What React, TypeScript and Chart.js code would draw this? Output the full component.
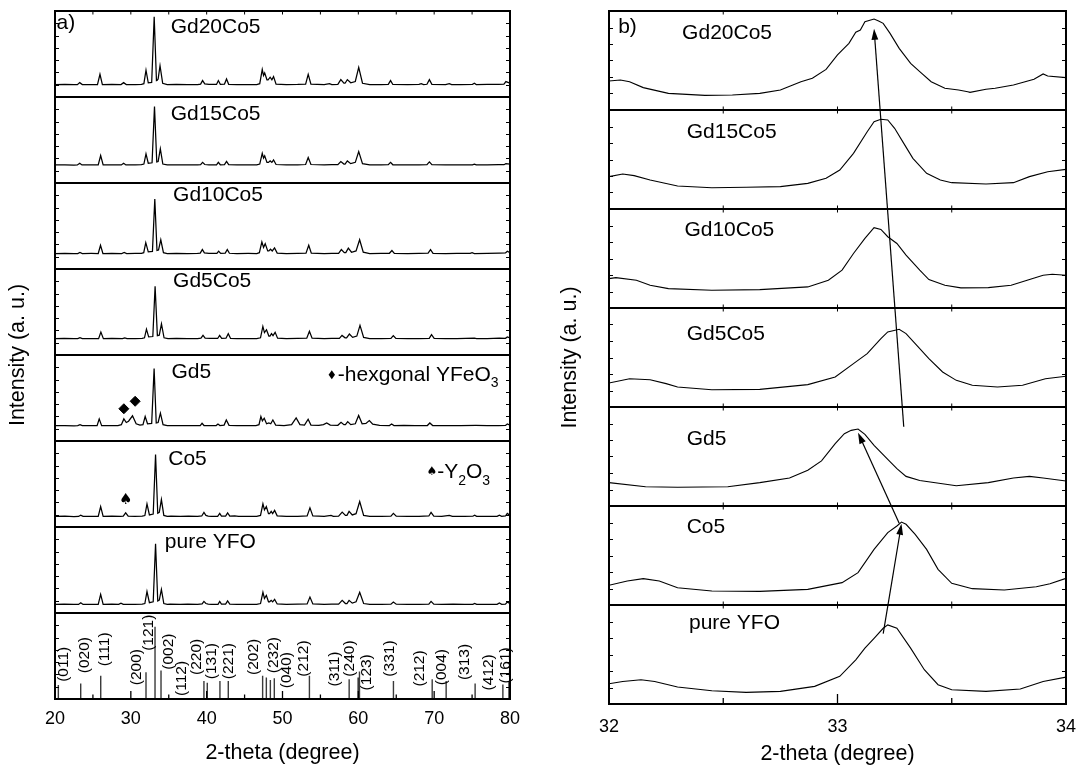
import React, { useEffect, useRef } from 'react';
import { Chart, registerables } from 'chart.js';

Chart.register(...registerables);

const FONT = '"Liberation Sans", Arial, Helvetica, sans-serif';
type Pt = [number, number];

// ================= panel (a): full XRD patterns, 2-theta vs normalised intensity =================
const A_X_TICKS = [20, 30, 40, 50, 60, 70, 80];
const A_X_MINOR = [25, 35, 45, 55, 65, 75];
const A_TOP_TICKS = [25, 30, 35, 40, 45, 50, 55, 60, 65, 70, 75];

const A_PURE: Pt[] = [[20,.10],[21.2,.102],[22.5,.099],[23.1,.10],[23.4,.12],[23.7,.10],[24.8,.101],[25.7,.10],[26.02,.216],[26.35,.10],[27.5,.102],[28.4,.10],[28.7,.115],[29.0,.10],[30.5,.101],[31.5,.103],[31.85,.11],[32.13,.25],[32.45,.12],[32.95,.13],[33.26,.805],[33.55,.14],[33.75,.15],[34.03,.275],[34.35,.11],[34.8,.10],[35.2,.103],[36.5,.1],[37.5,.102],[38.8,.1],[39.4,.105],[39.64,.135],[39.9,.11],[40.2,.104],[40.6,.10],[41.5,.1],[41.72,.135],[41.95,.103],[42.5,.103],[42.76,.14],[43.05,.103],[44,.1],[45.5,.101],[46.6,.10],[47.1,.11],[47.42,.24],[47.62,.17],[47.87,.205],[48.15,.13],[48.3,.13],[48.51,.147],[48.7,.13],[48.96,.158],[49.3,.105],[50.5,.10],[52,.102],[53.25,.105],[53.62,.185],[54.0,.105],[55.5,.1],[56.5,.104],[57.4,.103],[57.87,.147],[58.3,.11],[58.5,.11],[58.78,.147],[59.2,.115],[59.7,.13],[60.18,.24],[60.7,.11],[61.5,.10],[63,.1],[64.3,.103],[64.62,.127],[65,.102],[66.5,.1],[68,.101],[69.3,.104],[69.59,.135],[69.95,.103],[71,.1],[72.5,.102],[74,.1],[75.1,.101],[75.34,.112],[75.6,.1],[77,.101],[78.3,.1],[78.6,.116],[78.9,.101],[79.4,.104],[79.64,.127],[80,.11]];

const A_CO5: Pt[] = [[20,.123],[21.3,.125],[22.5,.122],[23.1,.123],[23.39,.138],[23.7,.123],[24.8,.124],[25.7,.123],[26.02,.238],[26.35,.123],[27.5,.125],[28.6,.124],[29.0,.126],[29.32,.165],[29.65,.126],[30.5,.123],[31.5,.126],[31.85,.133],[32.13,.269],[32.45,.14],[32.95,.15],[33.26,.843],[33.55,.16],[33.75,.17],[34.03,.319],[34.35,.135],[34.8,.124],[35.3,.126],[36.5,.123],[37.6,.125],[38.8,.123],[39.35,.128],[39.64,.169],[39.9,.135],[40.2,.127],[40.6,.124],[41.45,.124],[41.72,.158],[41.95,.126],[42.5,.127],[42.76,.163],[43.05,.126],[43.7,.128],[44.2,.124],[45.5,.124],[46.6,.124],[47.1,.134],[47.42,.269],[47.62,.2],[47.87,.238],[48.15,.155],[48.3,.155],[48.51,.181],[48.7,.155],[48.96,.193],[49.3,.13],[50.5,.124],[52,.125],[53.25,.128],[53.62,.223],[54.0,.128],[55.5,.124],[56.4,.135],[56.7,.124],[57.4,.127],[57.87,.173],[58.3,.135],[58.5,.135],[58.78,.181],[59.2,.14],[59.7,.155],[60.18,.296],[60.7,.135],[61.5,.124],[63,.124],[64.3,.127],[64.62,.158],[65,.126],[66.5,.124],[68,.125],[69.3,.128],[69.59,.169],[69.95,.127],[71,.124],[72,.135],[72.4,.124],[74,.124],[75.1,.125],[75.34,.138],[75.6,.124],[77,.125],[78.3,.124],[78.6,.138],[78.9,.125],[79.4,.128],[79.64,.158],[80,.135]];

const A_GD5: Pt[] = [[20,.178],[21.3,.18],[22.5,.177],[23.0,.178],[23.3,.19],[23.6,.178],[24.8,.179],[25.55,.178],[25.83,.257],[26.15,.178],[27.3,.18],[28.3,.179],[28.75,.19],[29.08,.257],[29.4,.215],[29.7,.23],[30.22,.293],[30.7,.2],[31.2,.185],[31.6,.19],[31.89,.285],[32.2,.2],[32.75,.205],[33.07,.842],[33.35,.21],[33.6,.215],[33.9,.324],[34.25,.19],[34.8,.18],[36,.179],[37.5,.18],[38.8,.178],[39.15,.18],[39.39,.206],[39.65,.18],[40.5,.179],[41.25,.18],[41.49,.198],[41.75,.18],[42.3,.185],[42.59,.245],[42.95,.182],[44,.179],[45.5,.18],[46.5,.18],[46.9,.19],[47.15,.285],[47.35,.235],[47.59,.265],[47.9,.2],[48.2,.21],[48.45,.2],[48.73,.245],[49.1,.185],[50.2,.18],[51.2,.19],[51.8,.268],[52.3,.19],[52.9,.185],[53.38,.253],[53.75,.185],[54.8,.182],[55.4,.19],[55.83,.21],[56.3,.185],[57.3,.183],[57.72,.218],[58.1,.19],[58.3,.19],[58.6,.225],[59.0,.19],[59.6,.2],[60.04,.297],[60.5,.2],[61.0,.205],[61.45,.238],[61.9,.195],[62.8,.182],[64.1,.18],[64.39,.198],[64.7,.18],[66,.181],[67.5,.179],[69.1,.18],[69.43,.21],[69.8,.18],[71.5,.179],[73.5,.18],[75.5,.181],[77,.179],[78.5,.18],[79.4,.181],[79.65,.198],[80,.185]];

const A_GD5CO5: Pt[] = [[20,.19],[21.2,.192],[22.5,.189],[23.0,.19],[23.29,.202],[23.6,.19],[24.8,.191],[25.75,.19],[26.05,.267],[26.38,.19],[27.5,.192],[28.9,.19],[29.2,.2],[29.5,.19],[30.6,.191],[31.5,.193],[31.8,.2],[32.06,.3],[32.35,.21],[32.9,.215],[33.2,.8],[33.5,.225],[33.75,.23],[34.04,.363],[34.38,.2],[34.9,.19],[36,.192],[37.5,.19],[38.8,.191],[39.25,.195],[39.52,.228],[39.8,.197],[40.4,.192],[41.45,.192],[41.71,.228],[41.98,.193],[42.55,.195],[42.85,.248],[43.15,.193],[44,.19],[45.5,.191],[46.6,.19],[47.1,.2],[47.41,.332],[47.62,.26],[47.89,.294],[48.2,.22],[48.35,.22],[48.55,.248],[48.75,.225],[49.03,.263],[49.35,.195],[50.5,.19],[52,.192],[53.2,.195],[53.55,.275],[53.9,.195],[55.5,.19],[56.5,.193],[57.5,.193],[57.85,.228],[58.25,.2],[58.45,.2],[58.82,.244],[59.25,.205],[59.8,.22],[60.22,.344],[60.7,.205],[61.5,.19],[63,.191],[64.3,.193],[64.61,.225],[64.95,.192],[66.5,.19],[68,.191],[69.35,.194],[69.65,.236],[70.0,.193],[71.5,.19],[73,.191],[75.3,.195],[75.6,.19],[77,.191],[78.6,.195],[79.4,.194],[79.65,.21],[80,.2]];

const A_GD10CO5: Pt[] = [[20,.18],[21.3,.182],[22.5,.179],[23.0,.18],[23.29,.192],[23.6,.18],[24.8,.181],[25.7,.18],[26.0,.276],[26.32,.18],[27.5,.182],[28.8,.18],[29.12,.192],[29.45,.18],[30.6,.181],[31.4,.183],[31.7,.19],[31.97,.307],[32.3,.2],[32.85,.205],[33.16,.815],[33.45,.215],[33.65,.22],[33.95,.34],[34.3,.19],[34.8,.18],[36,.182],[37.5,.18],[38.8,.181],[39.15,.185],[39.43,.226],[39.7,.187],[40.3,.182],[41.35,.181],[41.58,.207],[41.85,.182],[42.45,.184],[42.72,.226],[43.0,.183],[44,.18],[45.5,.181],[46.6,.18],[46.95,.19],[47.28,.315],[47.5,.25],[47.72,.295],[48.05,.21],[48.2,.21],[48.42,.23],[48.65,.21],[48.95,.245],[49.3,.185],[50.5,.18],[52,.182],[53.1,.185],[53.46,.276],[53.8,.185],[55.5,.18],[56.5,.183],[57.4,.183],[57.76,.226],[58.15,.19],[58.35,.19],[58.68,.242],[59.1,.195],[59.7,.21],[60.17,.34],[60.65,.195],[61.5,.18],[63,.181],[64.1,.183],[64.43,.215],[64.75,.182],[66.5,.18],[68,.181],[69.2,.184],[69.52,.226],[69.85,.183],[71.5,.18],[73,.181],[74.75,.182],[75.0,.19],[75.3,.18],[77,.181],[78.6,.184],[79.4,.186],[79.65,.207],[80,.19]];

const A_GD15CO5: Pt[] = [[20,.21],[21.3,.212],[22.5,.209],[22.95,.21],[23.26,.23],[23.55,.21],[24.8,.211],[25.7,.21],[26.02,.32],[26.35,.21],[27.5,.212],[28.75,.21],[29.05,.23],[29.35,.21],[30.6,.211],[31.4,.213],[31.72,.22],[32.0,.34],[32.3,.23],[32.8,.235],[33.12,.89],[33.42,.245],[33.6,.25],[33.89,.397],[34.22,.22],[34.8,.21],[36,.212],[37.5,.21],[38.8,.211],[39.2,.214],[39.46,.24],[39.75,.215],[40.3,.212],[41.3,.211],[41.54,.24],[41.8,.212],[42.35,.214],[42.62,.25],[42.9,.213],[44,.21],[45.5,.211],[46.6,.21],[47.0,.22],[47.33,.346],[47.5,.29],[47.65,.315],[47.95,.24],[48.15,.24],[48.37,.257],[48.6,.24],[48.82,.268],[49.15,.215],[50.5,.21],[52,.212],[53.05,.215],[53.39,.296],[53.75,.215],[55.5,.21],[56.5,.213],[57.3,.213],[57.69,.25],[58.1,.22],[58.25,.22],[58.55,.257],[59.0,.225],[59.6,.24],[60.05,.366],[60.55,.225],[61.5,.21],[63,.211],[63.95,.213],[64.25,.24],[64.55,.212],[66.5,.21],[68,.211],[69.05,.214],[69.37,.245],[69.7,.213],[71.5,.21],[73,.211],[75.05,.212],[75.3,.22],[75.55,.21],[77,.211],[78.5,.214],[79.2,.213],[79.46,.225],[80,.22]];

const A_GD20CO5: Pt[] = [[20,.144],[21.3,.146],[22.5,.143],[22.95,.144],[23.26,.167],[23.6,.144],[24.8,.145],[25.6,.144],[25.93,.264],[26.25,.144],[27.5,.146],[28.7,.144],[29.05,.167],[29.4,.144],[30.6,.145],[31.4,.147],[31.72,.155],[32.0,.311],[32.3,.165],[32.75,.17],[33.08,.934],[33.38,.19],[33.48,.194],[33.6,.21],[33.85,.364],[34.2,.16],[34.8,.144],[36,.146],[37.5,.144],[38.8,.145],[39.2,.15],[39.46,.191],[39.75,.152],[40.3,.146],[41.3,.146],[41.54,.191],[41.8,.147],[42.35,.15],[42.62,.21],[42.9,.148],[44,.144],[45.5,.145],[46.6,.145],[47.0,.155],[47.33,.319],[47.5,.25],[47.65,.28],[47.95,.2],[48.1,.2],[48.37,.23],[48.6,.2],[48.82,.237],[49.15,.15],[50.5,.144],[52,.146],[53.05,.15],[53.39,.264],[53.75,.15],[55.5,.145],[56.2,.156],[56.5,.145],[57.3,.148],[57.69,.202],[58.1,.16],[58.25,.16],[58.55,.202],[59.0,.165],[59.6,.18],[60.05,.344],[60.55,.16],[61.5,.144],[63,.145],[63.95,.148],[64.25,.191],[64.55,.146],[66.5,.144],[68,.146],[68.3,.155],[68.6,.145],[69.05,.148],[69.37,.202],[69.7,.147],[71.5,.145],[72,.155],[72.3,.144],[73.5,.145],[75.05,.147],[75.3,.159],[75.55,.145],[77,.146],[78.5,.148],[79.2,.15],[79.46,.179],[80,.16]];

// reference (standard) lines in the bottom panel
const STICK_X = [20.44, 23.39, 26.03, 32.0, 33.19, 33.98, 39.64, 40.08, 41.75, 42.85, 47.38, 47.87, 48.4, 48.92, 53.55, 58.79, 59.97, 60.15, 64.63, 69.74, 71.58, 75.4, 79.06, 79.86];
const STICK_H = [0.163, 0.18, 0.27, 0.31, 0.84, 0.33, 0.21, 0.19, 0.21, 0.21, 0.27, 0.25, 0.22, 0.24, 0.27, 0.23, 0.25, 0.32, 0.21, 0.23, 0.21, 0.18, 0.17, 0.2];
const MILLER_TEXT = ['(011)', '(020)', '(111)', '(200)', '(121)', '(002)', '(112)', '(220)', '(131)', '(221)', '(202)', '(232)', '(040)', '(212)', '(311)', '(240)', '(123)', '(331)', '(212)', '(004)', '(313)', '(412)', '(161)'];
const MILLER_X = [21.1, 23.96, 26.6, 30.77, 32.31, 34.95, 36.7, 38.7, 40.67, 42.87, 46.16, 48.8, 50.57, 52.76, 56.94, 58.92, 61.12, 64.1, 68.15, 71.0, 74.09, 77.16, 79.37];
const MILLER_Y = [0.2, 0.3, 0.38, 0.16, 0.56, 0.34, 0.035, 0.28, 0.23, 0.23, 0.28, 0.3, 0.125, 0.26, 0.145, 0.26, 0.1, 0.26, 0.145, 0.16, 0.22, 0.1, 0.18];

// hexagonal YFeO3 markers (Gd5) and Y2O3 marker (Co5), in panel units
const DIAMOND_X = [29.08, 30.57];
const DIAMOND_Y = [0.375, 0.462];
const SPADE_X = [29.32];
const SPADE_Y = [0.315];

// panel order from bottom (index 0 = reference lines)
const A_SERIES_NAMES = ['pure YFO', 'Co5', 'Gd5', 'Gd5Co5', 'Gd10Co5', 'Gd15Co5', 'Gd20Co5'];
const A_SERIES_DATA = [A_PURE, A_CO5, A_GD5, A_GD5CO5, A_GD10CO5, A_GD15CO5, A_GD20CO5];
const A_NAME_X = [34.48, 34.93, 35.35, 35.57, 35.57, 35.25, 35.25];
const A_NAME_Y = [0.826, 0.79, 0.8, 0.854, 0.854, 0.805, 0.817];

// ================= panel (b): zoom on the main peak =================
const B_X_TICKS = [32, 33, 34];
const B_X_MINOR = [32.5, 33.5];
const B_TOP_TICKS = [32.5, 33, 33.5];

const B_PURE: Pt[] = [[32.0,.205],[32.06,.228],[32.14,.245],[32.2,.228],[32.3,.171],[32.45,.134],[32.6,.117],[32.75,.128],[32.9,.178],[33.01,.279],[33.08,.446],[33.12,.564],[33.16,.664],[33.2,.765],[33.22,.799],[33.26,.765],[33.32,.564],[33.38,.346],[33.44,.195],[33.5,.144],[33.65,.128],[33.8,.151],[33.9,.228],[34.0,.272]];
const B_CO5: Pt[] = [[32.0,.199],[32.08,.242],[32.15,.266],[32.22,.242],[32.3,.175],[32.45,.141],[32.66,.138],[32.87,.158],[33.02,.226],[33.09,.327],[33.16,.562],[33.22,.731],[33.26,.798],[33.28,.838],[33.3,.815],[33.34,.714],[33.39,.562],[33.44,.36],[33.5,.219],[33.59,.165],[33.73,.152],[33.87,.185],[33.93,.215],[34.0,.269]];
const B_GD5: Pt[] = [[32.0,.236],[32.16,.195],[32.3,.189],[32.52,.195],[32.66,.236],[32.79,.283],[32.87,.362],[32.93,.456],[32.99,.629],[33.03,.73],[33.06,.764],[33.09,.777],[33.12,.723],[33.16,.613],[33.22,.472],[33.26,.377],[33.3,.299],[33.36,.258],[33.52,.204],[33.66,.236],[33.77,.283],[33.84,.299],[33.9,.283],[34.0,.252]];
const B_GD5CO5: Pt[] = [[32.0,.242],[32.09,.286],[32.18,.276],[32.25,.236],[32.3,.202],[32.45,.175],[32.66,.178],[32.87,.226],[32.99,.303],[33.07,.438],[33.13,.539],[33.19,.69],[33.22,.758],[33.27,.785],[33.3,.741],[33.34,.64],[33.4,.488],[33.46,.354],[33.52,.269],[33.59,.219],[33.7,.202],[33.81,.219],[33.91,.286],[34.0,.31]];
const B_GD10CO5: Pt[] = [[32.0,.297],[32.03,.307],[32.12,.28],[32.18,.23],[32.26,.196],[32.45,.179],[32.66,.186],[32.87,.213],[32.96,.28],[33.02,.382],[33.07,.551],[33.12,.703],[33.16,.811],[33.19,.794],[33.22,.72],[33.26,.652],[33.3,.534],[33.36,.382],[33.4,.287],[33.47,.23],[33.54,.203],[33.66,.206],[33.76,.23],[33.83,.28],[33.9,.331],[33.94,.341],[34.0,.331]];
const B_GD15CO5: Pt[] = [[32.0,.327],[32.06,.354],[32.11,.337],[32.18,.293],[32.3,.232],[32.45,.215],[32.6,.219],[32.75,.226],[32.87,.259],[32.95,.31],[33.01,.394],[33.07,.562],[33.13,.781],[33.16,.882],[33.19,.906],[33.22,.899],[33.25,.815],[33.29,.663],[33.33,.512],[33.39,.36],[33.45,.293],[33.5,.266],[33.65,.253],[33.77,.266],[33.84,.327],[33.92,.377],[34.0,.4]];
const B_GD20CO5: Pt[] = [[32.0,.293],[32.05,.303],[32.09,.286],[32.15,.226],[32.26,.168],[32.42,.148],[32.54,.152],[32.66,.168],[32.75,.202],[32.84,.286],[32.89,.32],[32.95,.41],[33.0,.556],[33.05,.673],[33.08,.785],[33.1,.808],[33.12,.892],[33.16,.919],[33.18,.9],[33.2,.875],[33.23,.774],[33.27,.623],[33.32,.471],[33.36,.387],[33.41,.286],[33.47,.219],[33.53,.202],[33.57,.185],[33.58,.178],[33.65,.209],[33.69,.219],[33.77,.253],[33.86,.31],[33.9,.364],[33.92,.343],[34.0,.327]];

const B_SERIES_NAMES = ['pure YFO', 'Co5', 'Gd5', 'Gd5Co5', 'Gd10Co5', 'Gd15Co5', 'Gd20Co5'];
const B_SERIES_DATA = [B_PURE, B_CO5, B_GD5, B_GD5CO5, B_GD10CO5, B_GD15CO5, B_GD20CO5];
const B_NAME_X = [32.35, 32.34, 32.34, 32.34, 32.33, 32.34, 32.32];
const B_NAME_Y = [0.815, 0.788, 0.676, 0.74, 0.787, 0.78, 0.774];

// peak-shift arrows: [x0, y0, x1, y1] in (2-theta, stacked panel units)
const B_ARROWS = [
  [33.2, 0.71, 33.28, 1.82],
  [33.27, 1.825, 33.09, 2.74],
  [33.29, 2.8, 33.16, 6.82],
];

// ================= helpers =================
function seg(ctx: CanvasRenderingContext2D, x0: number, y0: number, x1: number, y1: number) {
  ctx.beginPath();
  ctx.moveTo(x0, y0);
  ctx.lineTo(x1, y1);
  ctx.stroke();
}

function drawRich(ctx: CanvasRenderingContext2D, segs: [string, number][], x: number, y: number, size: number) {
  ctx.save();
  ctx.translate(x, y);
  ctx.textBaseline = 'middle';
  ctx.textAlign = 'left';
  let cx = 0;
  for (const [t, sub] of segs) {
    const fs = sub ? Math.round(size * 0.66) : size;
    ctx.font = `${fs}px ${FONT}`;
    ctx.fillText(t, cx, sub ? size * 0.42 : 0);
    cx += ctx.measureText(t).width;
  }
  ctx.restore();
}

function arrow(ctx: CanvasRenderingContext2D, x0: number, y0: number, x1: number, y1: number) {
  ctx.lineWidth = 1.2;
  const ang = Math.atan2(y1 - y0, x1 - x0);
  const L = 11, W = 3.4;
  const c = Math.cos(ang), s = Math.sin(ang);
  seg(ctx, x0, y0, x1 - c * 6, y1 - s * 6);
  ctx.beginPath();
  ctx.moveTo(x1, y1);
  ctx.lineTo(x1 - L * c + W * s, y1 - L * s - W * c);
  ctx.lineTo(x1 - L * c - W * s, y1 - L * s + W * c);
  ctx.closePath();
  ctx.fill();
}

function decor(opts: any) {
  return {
    id: 'decor',
    afterDatasetsDraw(chart: any) {
      const { ctx, chartArea: a } = chart;
      const X = (v: number) => chart.scales.x.getPixelForValue(v);
      const Y = (v: number) => chart.scales.y.getPixelForValue(v);
      ctx.save();
      ctx.strokeStyle = '#000';
      ctx.fillStyle = '#000';
      ctx.lineWidth = 2;
      for (let k = 1; k < opts.panels; k++) seg(ctx, a.left, Y(k), a.right, Y(k));
      ctx.strokeRect(a.left, a.top, a.right - a.left, a.bottom - a.top);
      ctx.lineWidth = 1;
      for (let k = 0; k < opts.panels; k++) {
        for (let j = 1; j < opts.yDiv; j++) {
          const py = Math.round(Y(k + j / opts.yDiv)) + 0.5;
          seg(ctx, a.left, py, a.left + 4, py);
          seg(ctx, a.right - 4, py, a.right, py);
        }
      }
      ctx.lineWidth = 1.3;
      for (const v of opts.major) seg(ctx, X(v), a.bottom, X(v), a.bottom - opts.majorLen);
      for (const v of opts.minor) seg(ctx, X(v), a.bottom, X(v), a.bottom - opts.minorLen);
      ctx.lineWidth = 1;
      for (const v of opts.top) seg(ctx, X(v), a.top, X(v), a.top + 3.5);
      if (opts.dividerTicks) {
        for (let k = 1; k < opts.panels; k++) for (const v of opts.top) seg(ctx, X(v), Y(k) - 3.5, X(v), Y(k) + 3.5);
      }
      opts.extra(ctx, X, Y);
      ctx.restore();
    },
  };
}

const lineDs = (data: Pt[], off: number, width: number) => ({
  type: 'line',
  data: data.map(([x, v]) => ({ x, y: v + off })),
  borderColor: '#000',
  borderWidth: width,
  pointRadius: 0,
  tension: 0,
  fill: false,
});

function axisX(min: number, max: number, ticks: number[], h: number, titlePadBottom: number, tickPad: number) {
  return {
    type: 'linear',
    min,
    max,
    afterBuildTicks: (s: any) => { s.ticks = ticks.map((v) => ({ value: v })); },
    ticks: { color: '#000', font: { size: 18, family: FONT }, padding: tickPad, maxRotation: 0, autoSkip: false },
    grid: { display: false, drawTicks: false },
    border: { display: false },
    title: { display: true, text: '2-theta (degree)', color: '#000', font: { size: 21.5, family: FONT }, padding: { top: 0, bottom: titlePadBottom } },
    afterFit: (s: any) => { s.height = h; },
  };
}

function axisY(max: number, w: number, titlePadTop: number) {
  return {
    type: 'linear',
    min: 0,
    max,
    ticks: { display: false },
    grid: { display: false, drawTicks: false },
    border: { display: false },
    title: { display: true, text: 'Intensity (a. u.)', color: '#000', font: { size: 21.5, family: FONT }, padding: { top: titlePadTop, bottom: 0 } },
    afterFit: (s: any) => { s.width = w; },
  };
}

function leftConfig(): any {
  const datasets: any[] = [];
  const stickPts: any[] = [];
  STICK_X.forEach((x, i) => {
    stickPts.push({ x, y: 0 }, { x, y: STICK_H[i] }, { x, y: null });
  });
  datasets.push({ type: 'line', data: stickPts, borderColor: '#3a3a3a', borderWidth: 1.4, pointRadius: 0, spanGaps: false });
  A_SERIES_DATA.forEach((d, i) => datasets.push(lineDs(d, i + 1, 1.25)));
  datasets.push({
    type: 'scatter',
    data: DIAMOND_X.map((x, i) => ({ x, y: DIAMOND_Y[i] + 3 })),
    pointStyle: 'rectRot',
    pointRadius: 5,
    backgroundColor: '#000',
    borderColor: '#000',
    showLine: false,
  });
  const extra = (ctx: CanvasRenderingContext2D, X: any, Y: any) => {
    drawRich(ctx, [['a)', 0]], X(20.2), Y(7.856), 21);
    A_SERIES_NAMES.forEach((n, i) => drawRich(ctx, [[n, 0]], X(A_NAME_X[i]), Y(i + 1 + A_NAME_Y[i]), 21));
    // hexagonal YFeO3 legend
    const dx = X(56.5), dy = Y(3.77);
    ctx.beginPath();
    ctx.moveTo(dx, dy - 4.5); ctx.lineTo(dx + 3.2, dy); ctx.lineTo(dx, dy + 4.5); ctx.lineTo(dx - 3.2, dy);
    ctx.closePath(); ctx.fill();
    drawRich(ctx, [['-hexgonal YFeO', 0], ['3', 1]], X(57.3), Y(3.77), 21);
    // Y2O3 legend
    ctx.font = `12px "DejaVu Sans", ${FONT}`;
    ctx.textAlign = 'center'; ctx.textBaseline = 'middle';
    ctx.fillText('\u2660', X(69.7), Y(2.64));
    drawRich(ctx, [['-Y', 0], ['2', 1], ['O', 0], ['3', 1]], X(70.4), Y(2.64), 21);
    // spade marker on Co5 pattern
    ctx.font = `15px "DejaVu Sans", ${FONT}`;
    ctx.textAlign = 'center'; ctx.textBaseline = 'middle';
    SPADE_X.forEach((x, i) => ctx.fillText('\u2660', X(x), Y(2 + SPADE_Y[i])));
    // Miller indices of the reference lines
    ctx.font = `15.5px ${FONT}`;
    ctx.textAlign = 'left'; ctx.textBaseline = 'middle';
    MILLER_TEXT.forEach((t, i) => {
      ctx.save();
      ctx.translate(X(MILLER_X[i]), Y(MILLER_Y[i]));
      ctx.rotate(-Math.PI / 2);
      ctx.fillText(t, 0, 0);
      ctx.restore();
    });
  };
  return {
    type: 'line',
    data: { datasets },
    options: {
      animation: false,
      responsive: false,
      events: [],
      layout: { padding: { left: 0, top: 11, right: 34, bottom: 0 } },
      plugins: { legend: { display: false }, tooltip: { enabled: false } },
      scales: { x: axisX(20, 80, A_X_TICKS, 68, 1, 9), y: axisY(8, 55, 5) },
    },
    plugins: [decor({ panels: 8, yDiv: 7, major: A_X_TICKS, minor: A_X_MINOR, majorLen: 8, minorLen: 4.5, top: A_TOP_TICKS, dividerTicks: false, extra })],
  };
}

function rightConfig(): any {
  const datasets: any[] = B_SERIES_DATA.map((d, i) => lineDs(d, i, 1.1));
  const extra = (ctx: CanvasRenderingContext2D, X: any, Y: any) => {
    drawRich(ctx, [['b)', 0]], X(32.04), Y(6.84), 21);
    B_SERIES_NAMES.forEach((n, i) => drawRich(ctx, [[n, 0]], X(B_NAME_X[i]), Y(i + B_NAME_Y[i]), 21));
    for (const [x0, y0, x1, y1] of B_ARROWS) arrow(ctx, X(x0), Y(y0), X(x1), Y(y1));
  };
  return {
    type: 'line',
    data: { datasets },
    options: {
      animation: false,
      responsive: false,
      events: [],
      layout: { padding: { left: 0, top: 11, right: 11, bottom: 0 } },
      plugins: { legend: { display: false }, tooltip: { enabled: false } },
      scales: { x: axisX(32, 34, B_X_TICKS, 63, 0, 12), y: axisY(7, 65, 13) },
    },
    plugins: [decor({ panels: 7, yDiv: 6, major: B_X_TICKS, minor: B_X_MINOR, majorLen: 10, minorLen: 6, top: B_TOP_TICKS, dividerTicks: true, extra })],
  };
}

export default function App() {
  const lRef = useRef<HTMLCanvasElement>(null);
  const rRef = useRef<HTMLCanvasElement>(null);
  useEffect(() => {
    document.body.style.margin = '0';
    const c1 = new Chart(lRef.current as HTMLCanvasElement, leftConfig());
    const c2 = new Chart(rRef.current as HTMLCanvasElement, rightConfig());
    return () => {
      c1.destroy();
      c2.destroy();
    };
  }, []);
  return (
    <div style={{ position: 'relative', width: 1088, height: 767, background: '#fff', overflow: 'hidden' }}>
      <canvas ref={lRef} width={544} height={767} style={{ position: 'absolute', left: 0, top: 0 }} />
      <canvas ref={rRef} width={544} height={767} style={{ position: 'absolute', left: 544, top: 0 }} />
    </div>
  );
}
